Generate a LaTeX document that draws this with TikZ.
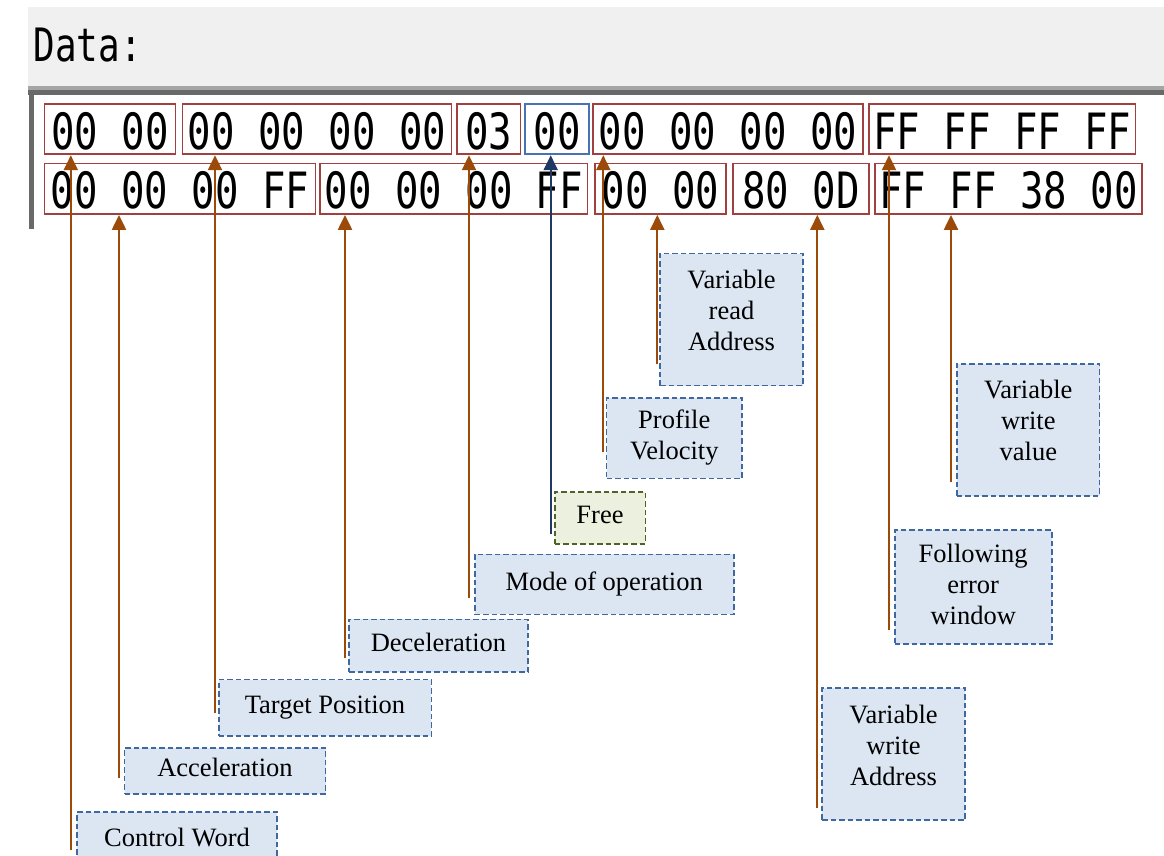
\documentclass[tikz,border=0pt]{standalone}
\usepackage{fontspec}
\setmainfont{Liberation Serif}
\newfontfamily\hexfont[FakeStretch=0.78]{DejaVu Sans Mono}
\usetikzlibrary{arrows.meta}

\definecolor{bandgrey}{RGB}{240,240,240}
\definecolor{rulelight}{RGB}{165,165,165}
\definecolor{ruledark}{RGB}{105,105,105}
\definecolor{hexred}{RGB}{160,64,63}
\definecolor{hexblue}{RGB}{72,114,176}
\definecolor{lblfill}{RGB}{220,230,242}
\definecolor{lblborder}{RGB}{64,104,160}
\definecolor{freefill}{RGB}{235,241,222}
\definecolor{freeborder}{RGB}{79,98,40}
\definecolor{connbrown}{RGB}{156,74,10}
\definecolor{connnavy}{RGB}{31,56,100}

% centred multi-line label, optionally lifted inside its box
\newcommand\stacklabel[2][0pt]{\raisebox{#1}[\height][\depth]{\begin{tabular}{@{}c@{}}#2\end{tabular}}}

\begin{document}
\begin{tikzpicture}[x=1pt,y=-1pt,
  hexbox/.style={draw=hexred, line width=1.8pt, inner sep=0pt,
    minimum height=50.6pt, text height=40.5pt, text depth=0pt,
    font=\hexfont\fontsize{50}{50}\selectfont},
  bluebox/.style={hexbox, draw=hexblue},
  lbl/.style={draw=lblborder, fill=lblfill, line width=1.6pt,
    dash pattern=on 5.5pt off 3pt, inner sep=0pt,
    font=\fontsize{26.5}{31}\selectfont},
  single/.style={lbl, text height=18pt, text depth=6pt},
  freelbl/.style={draw=freeborder, fill=freefill},
  conn/.style={draw=connbrown, line width=2.2pt,
    -{Triangle[length=15pt,width=14pt]}},
  navyconn/.style={conn, draw=connnavy},
]
\useasboundingbox (0,0) rectangle (1164,855);

% window frame: title band and panel edges
\fill[bandgrey] (28,7) rectangle (1164,86);
\fill[rulelight] (28,86) rectangle (1164,90);
\fill[ruledark] (28,90) rectangle (1164,95);
\fill[ruledark] (29,95) rectangle (33.5,229);
\node[font=\hexfont\fontsize{46}{46}\selectfont, anchor=base west, inner sep=0pt]
  (title) at (33.5,61.7) {Data:};

% first row of data bytes
\node[hexbox, minimum width=131pt]   (hA) at (109.9,129) {00 00};
\node[hexbox, minimum width=269pt]   (hB) at (317,129) {00 00 00 00};
\node[hexbox, minimum width=63.5pt]  (hC) at (488.7,129) {03};
\node[bluebox, minimum width=64.7pt] (hD) at (557,129) {00};
\node[hexbox, minimum width=270.3pt] (hE) at (727.9,129) {00 00 00 00};
\node[hexbox, minimum width=266.5pt] (hF) at (1002.3,129) {FF FF FF FF};

% second row of data bytes
\node[hexbox, minimum width=271pt]   (hG) at (179.9,188.7) {00 00 00 FF};
\node[hexbox, minimum width=267.5pt] (hH) at (453.8,188.7) {00 00 00 FF};
\node[hexbox, minimum width=130.6pt] (hI) at (660.3,188.7) {00 00};
\node[hexbox, minimum width=136.3pt] (hJ) at (801,188.7) {80 0D};
\node[hexbox, minimum width=266.7pt] (hK) at (1008.4,188.7) {FF FF 38 00};

% field labels
\node[single, minimum width=200pt, minimum height=56pt]    (cw)   at (177,840) {Control Word};
\node[single, minimum width=201pt, minimum height=46pt]    (acc)  at (225,770.7) {Acceleration};
\node[single, minimum width=212.6pt, minimum height=56.3pt] (tp)  at (325,707.8) {Target Position};
\node[single, minimum width=179pt, minimum height=52.4pt]  (dec)  at (438.5,645.5) {Deceleration};
\node[single, minimum width=259pt, minimum height=60pt]    (mode) at (604.2,584.3) {Mode of operation};
\node[single, freelbl, minimum width=90.6pt, minimum height=52pt] (free) at (600,517.7) {Free};
\node[lbl, minimum width=135.3pt, minimum height=80.6pt]   (pv)   at (674.3,438) {\stacklabel{Profile\\Velocity}};
\node[lbl, minimum width=142.6pt, minimum height=132pt]    (vra)  at (731.5,319.6) {\stacklabel[6pt]{Variable\\read\\Address}};
\node[lbl, minimum width=143pt, minimum height=132pt]      (vwa)  at (893.5,754) {\stacklabel[6pt]{Variable\\write\\Address}};
\node[lbl, minimum width=157pt, minimum height=114pt]      (few)  at (973.2,587) {\stacklabel{Following\\error\\window}};
\node[lbl, minimum width=142.7pt, minimum height=132pt]    (vwv)  at (1028.3,429.7) {\stacklabel[6pt]{Variable\\write\\value}};

% free ends of the leader lines, beside each label
\coordinate (cw-end)   at (70.8,850);
\coordinate (acc-end)  at (119,778);
\coordinate (tp-end)   at (215,713);
\coordinate (dec-end)  at (345,658);
\coordinate (mode-end) at (469,598.3);
\coordinate (free-end) at (550.7,534);
\coordinate (pv-end)   at (603.3,452);
\coordinate (vra-end)  at (657.3,364);
\coordinate (vwa-end)  at (817.3,808);
\coordinate (few-end)  at (889,630);
\coordinate (vwv-end)  at (951,482);

% leader lines up to the fields they describe
\draw[conn]     (cw-end)   -- (cw-end   |- hA.south);
\draw[conn]     (acc-end)  -- (acc-end  |- hG.south);
\draw[conn]     (tp-end)   -- (tp-end   |- hB.south);
\draw[conn]     (dec-end)  -- (dec-end  |- hH.south);
\draw[conn]     (mode-end) -- (mode-end |- hC.south);
\draw[navyconn] (free-end) -- (free-end |- hD.south);
\draw[conn]     (pv-end)   -- (pv-end   |- hE.south);
\draw[conn]     (vra-end)  -- (vra-end  |- hI.south);
\draw[conn]     (vwa-end)  -- (vwa-end  |- hJ.south);
\draw[conn]     (few-end)  -- (few-end  |- hF.south);
\draw[conn]     (vwv-end)  -- (vwv-end  |- hK.south);
\end{tikzpicture}
\end{document}
